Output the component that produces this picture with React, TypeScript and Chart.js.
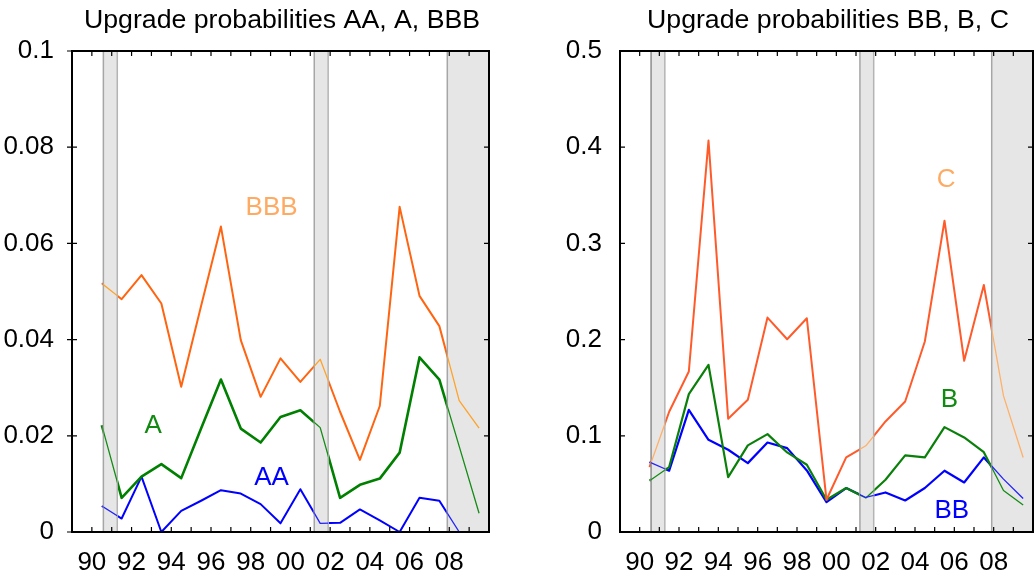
import { useEffect, useRef } from 'react';
import { Chart, registerables } from 'chart.js';

Chart.register(...registerables);

// Observation years (plotted at mid-year)
const years = [
  1990, 1991, 1992, 1993, 1994, 1995, 1996, 1997, 1998, 1999,
  2000, 2001, 2002, 2003, 2004, 2005, 2006, 2007, 2008, 2009,
];

// Upgrade probabilities, investment grade
const upAA = [
  0.0054, 0.0028, 0.0115, 0.0, 0.0044, 0.0065, 0.0087, 0.008, 0.0058, 0.0018,
  0.0089, 0.0018, 0.0019, 0.0047, 0.0024, 0.0, 0.0071, 0.0065, 0.0, 0.0,
];
const upA = [
  0.0222, 0.0071, 0.0115, 0.0141, 0.0112, 0.0215, 0.0317, 0.0215, 0.0186, 0.0239,
  0.0253, 0.0217, 0.0071, 0.0098, 0.0111, 0.0165, 0.0363, 0.0317, 0.0178, 0.0039,
];
const upBBB = [
  0.0517, 0.0484, 0.0534, 0.0475, 0.0302, 0.047, 0.0635, 0.0399, 0.0281, 0.0361,
  0.0312, 0.0359, 0.025, 0.015, 0.0262, 0.0676, 0.0491, 0.0428, 0.0273, 0.0216,
];

// Upgrade probabilities, speculative grade
const upBB = [
  0.0727, 0.0637, 0.127, 0.0958, 0.0855, 0.0716, 0.093, 0.0872, 0.064, 0.0311,
  0.0457, 0.0359, 0.0411, 0.0328, 0.0457, 0.0637, 0.0515, 0.0775, 0.055, 0.0349,
];
const upB = [
  0.0533, 0.0675, 0.1433, 0.1737, 0.0571, 0.09, 0.1017, 0.0827, 0.0699, 0.0335,
  0.0457, 0.0353, 0.0543, 0.0796, 0.0775, 0.109, 0.0983, 0.083, 0.0432, 0.028,
];
const upC = [
  0.0675, 0.125, 0.1668, 0.407, 0.1177, 0.1374, 0.2229, 0.2004, 0.2222, 0.0335,
  0.0775, 0.0896, 0.1149, 0.1356, 0.198, 0.3236, 0.178, 0.2568, 0.1415, 0.0775,
];

// Recession periods (shaded)
const recessions: [number, number][] = [
  [1990.58, 1991.28],
  [2001.2, 2001.9],
  [2007.9, 2010],
];

const leftTitle = 'Upgrade probabilities AA, A, BBB';
const rightTitle = 'Upgrade probabilities BB, B, C';

const FONT = '"Liberation Sans", Arial, sans-serif';
const FS = 26;
const TITLE_FS = 26.7;

const toPoints = (vals: number[]) => vals.map((v, i) => ({ x: years[i] + 0.5, y: v }));

type SeriesLabel = { text: string; x: number; y: number; color: string };

const panelPlugin = {
  id: 'panel',
  afterDatasetsDraw(chart: any, _args: any, opts: any) {
    const { ctx, chartArea: a } = chart;
    const xs = chart.scales.x;
    const ys = chart.scales.y;
    ctx.save();

    // recession shading, with the series redrawn thin inside it
    recessions.forEach(([s, e], k) => {
      const x0 = xs.getPixelForValue(s);
      const x1 = Math.min(xs.getPixelForValue(e), a.right);
      ctx.fillStyle = '#e6e6e6';
      ctx.fillRect(x0, a.top, x1 - x0, a.bottom - a.top);
      ctx.lineWidth = 1.5;
      ctx.strokeStyle = k === 0 ? opts.firstEdge : '#a6a6a6';
      ctx.beginPath();
      ctx.moveTo(x0, a.top);
      ctx.lineTo(x0, a.bottom);
      ctx.stroke();
      if (x1 < a.right - 1) {
        ctx.strokeStyle = '#b4b4b4';
        ctx.beginPath();
        ctx.moveTo(x1, a.top);
        ctx.lineTo(x1, a.bottom);
        ctx.stroke();
      }

      ctx.save();
      ctx.beginPath();
      ctx.rect(x0, a.top - 2, x1 - x0, a.bottom - a.top + 4);
      ctx.clip();
      chart.data.datasets.forEach((_ds: any, i: number) => {
        const meta = chart.getDatasetMeta(i);
        ctx.beginPath();
        meta.data.forEach((p: any, j: number) => {
          if (j === 0) ctx.moveTo(p.x, p.y);
          else ctx.lineTo(p.x, p.y);
        });
        ctx.strokeStyle = opts.thin[i];
        ctx.lineWidth = 1.3;
        ctx.lineJoin = 'round';
        ctx.stroke();
      });
      ctx.restore();
    });

    // frame
    ctx.strokeStyle = '#000';
    ctx.lineWidth = 2;
    ctx.strokeRect(a.left, a.top, a.right - a.left, a.bottom - a.top);

    // tick marks
    ctx.lineWidth = 1.2;
    ctx.beginPath();
    for (const t of xs.ticks) {
      const px = xs.getPixelForValue(t.value);
      if (px <= a.left + 1 || px >= a.right - 1) continue;
      ctx.moveTo(px, a.top);
      ctx.lineTo(px, a.top + 5);
      ctx.moveTo(px, a.bottom);
      ctx.lineTo(px, a.bottom - 5);
    }
    for (const t of ys.ticks) {
      const py = ys.getPixelForValue(t.value);
      ctx.moveTo(a.left - opts.outTick, py);
      ctx.lineTo(a.left + 5, py);
      ctx.moveTo(a.right, py);
      ctx.lineTo(a.right - 5, py);
    }
    ctx.stroke();

    // series labels
    ctx.font = `${FS}px ${FONT}`;
    ctx.textAlign = 'center';
    ctx.textBaseline = 'middle';
    for (const l of opts.labels as SeriesLabel[]) {
      ctx.fillStyle = l.color;
      ctx.fillText(l.text, xs.getPixelForValue(l.x), ys.getPixelForValue(l.y));
    }

    // panel title
    ctx.font = `${TITLE_FS}px ${FONT}`;
    ctx.fillStyle = '#000';
    ctx.textBaseline = 'alphabetic';
    ctx.fillText(opts.title, (a.left + a.right) / 2 + 1.5, 28);
    ctx.restore();
  },
};

type Series = { data: number[]; color: string; width: number; thin: string };

function makeConfig(
  series: Series[],
  yMax: number,
  yStep: number,
  axisWidth: number,
  padRight: number,
  title: string,
  labels: SeriesLabel[],
  outTick: number,
  firstEdge: string,
) {
  return {
    type: 'line' as const,
    data: {
      datasets: series.map((s) => ({
        data: toPoints(s.data),
        borderColor: s.color,
        borderWidth: s.width,
        pointRadius: 0,
        tension: 0,
        fill: false,
        clip: 4,
        borderJoinStyle: 'round' as const,
      })),
    },
    options: {
      responsive: false,
      animation: false as const,
      layout: { padding: { top: 51, left: 0, right: padRight, bottom: 0 } },
      plugins: {
        legend: { display: false },
        tooltip: { enabled: false },
        title: { display: false },
        panel: { thin: series.map((s) => s.thin), title, labels, outTick, firstEdge },
      },
      scales: {
        x: {
          type: 'linear' as const,
          min: 1989,
          max: 2010,
          grid: { display: false },
          border: { display: false },
          afterFit: (s: any) => {
            s.height = 39;
          },
          ticks: {
            stepSize: 1,
            autoSkip: false,
            maxRotation: 0,
            padding: 7,
            color: '#000',
            font: { size: FS, family: FONT },
            callback: (v: number) => {
              const yr = Math.round(v);
              return yr % 2 === 0 && yr >= 1990 && yr <= 2008 ? String(yr).slice(2) : '';
            },
          },
        },
        y: {
          min: 0,
          max: yMax,
          grid: { display: false },
          border: { display: false },
          afterFit: (s: any) => {
            s.width = axisWidth;
          },
          ticks: {
            stepSize: yStep,
            padding: 10,
            color: '#000',
            font: { size: FS, family: FONT },
            callback: (v: number) => (v === 0 ? '0' : String(parseFloat(v.toFixed(3)))),
          },
        },
      },
    },
    plugins: [panelPlugin],
  };
}

function Panel(props: { config: any; left: number; width: number }) {
  const ref = useRef<HTMLCanvasElement | null>(null);
  useEffect(() => {
    if (!ref.current) return;
    const chart = new Chart(ref.current, props.config);
    return () => chart.destroy();
  }, []);
  return (
    <canvas
      ref={ref}
      width={props.width}
      height={571}
      style={{ position: 'absolute', left: props.left, top: 0, width: props.width, height: 571 }}
    />
  );
}

const leftConfig = makeConfig(
  [
    { data: upBBB, color: '#ff6410', width: 2, thin: '#ffa228' },
    { data: upA, color: '#008000', width: 2.6, thin: '#148c14' },
    { data: upAA, color: '#0000ff', width: 2, thin: '#2222ff' },
  ],
  0.1,
  0.02,
  72,
  21,
  leftTitle,
  [
    { text: 'BBB', x: 1999.05, y: 0.0673, color: '#ffaa62' },
    { text: 'A', x: 1993.09, y: 0.022, color: '#118a11' },
    { text: 'AA', x: 1999.05, y: 0.0112, color: '#0000ff' },
  ],
  5,
  '#a6a6a6',
);

const rightConfig = makeConfig(
  [
    { data: upC, color: '#ff5a2a', width: 2, thin: '#ffb068' },
    { data: upB, color: '#0a800a', width: 2.2, thin: '#148c14' },
    { data: upBB, color: '#0000ff', width: 2.2, thin: '#2222ff' },
  ],
  0.5,
  0.1,
  100,
  3,
  rightTitle,
  [
    { text: 'C', x: 2005.58, y: 0.3663, color: '#ffaa62' },
    { text: 'B', x: 2005.75, y: 0.1375, color: '#118a11' },
    { text: 'BB', x: 2005.87, y: 0.0221, color: '#0000ff' },
  ],
  0,
  '#8c8c8c',
);

export default function App() {
  return (
    <div
      style={{
        position: 'fixed',
        left: 0,
        top: 0,
        width: 1034,
        height: 571,
        overflow: 'hidden',
        background: '#fff',
      }}
    >
      <Panel config={leftConfig} left={0} width={510} />
      <Panel config={rightConfig} left={520} width={520} />
    </div>
  );
}
